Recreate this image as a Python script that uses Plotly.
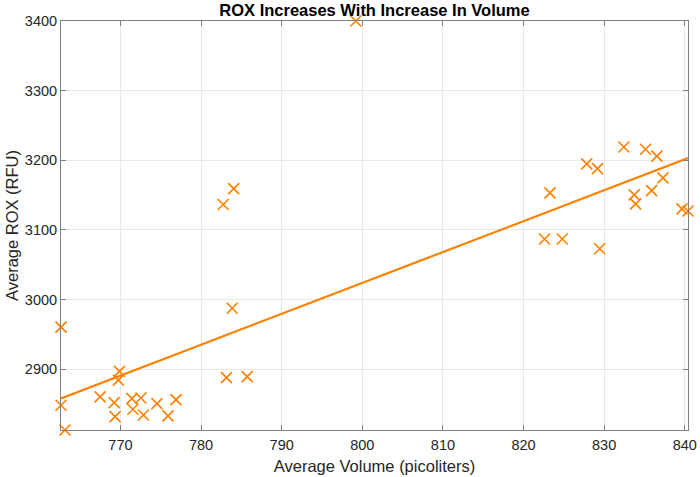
import numpy as np
import plotly.graph_objects as go

volume = [762.63, 762.63, 763.12, 767.48, 769.22, 769.34, 769.88, 769.75, 771.42, 771.54,
          772.54, 772.86, 774.53, 775.90, 776.89, 782.74, 784.05, 783.15, 783.86, 785.72,
          799.19, 822.60, 824.80, 823.28, 827.84, 829.17, 829.45, 832.44, 833.73, 833.90,
          835.14, 835.88, 836.54, 837.29, 839.65, 840.40]
rox = [2960.2, 2848.0, 2812.5, 2860.0, 2851.8, 2831.8, 2896.7, 2884.2, 2857.6, 2842.3,
       2858.5, 2834.1, 2850.4, 2832.7, 2856.2, 3136.4, 3159.3, 2887.7, 2987.4, 2889.1,
       3400.0, 3086.8, 3086.8, 3153.2, 3194.7, 3188.0, 3072.9, 3219.0, 3150.3, 3137.4,
       3215.7, 3156.4, 3206.0, 3174.6, 3130.2, 3127.0]
x_ticks = [770, 780, 790, 800, 810, 820, 830, 840]
y_ticks = [2900, 3000, 3100, 3200, 3300, 3400]

color = "#FF8000"
FONT = "Liberation Sans, Arial, Helvetica, sans-serif"
vx = np.array(volume)
vy = np.array(rox)
slope, intercept = np.polyfit(vx, vy, 1)
fit_x = np.array([vx.min(), vx.max()])
fit_y = slope * fit_x + intercept

fig = go.Figure()
fig.add_trace(go.Scatter(x=volume, y=rox, mode="markers",
                         marker=dict(symbol="x-thin-open", size=11, color=color,
                                     line=dict(color=color, width=1.6)),
                         cliponaxis=False, showlegend=False))
fig.add_trace(go.Scatter(x=fit_x, y=fit_y, mode="lines",
                         line=dict(color=color, width=2.2),
                         showlegend=False))

axis_common = dict(showline=True, linecolor="#808080", linewidth=1, mirror="ticks",
                   ticks="inside", ticklen=5, tickcolor="#808080", automargin=False,
                   showgrid=True, gridcolor="#E8E8E8", gridwidth=1, zeroline=False,
                   tickfont=dict(family=FONT, size=14.5, color="#262626"),
                   title_font=dict(family=FONT, size=16.5, color="#262626"))

W, H = 700, 477
fig.update_layout(
    width=W, height=H,
    margin=dict(l=61, r=12, t=21, b=47),
    paper_bgcolor="white", plot_bgcolor="white",
    title=dict(text="<b>ROX Increases With Increase In Volume</b>",
               x=374.5 / W, xanchor="center", y=1 - 10.5 / H, yanchor="middle",
               font=dict(family=FONT, size=16.5, color="black"), automargin=False),
    xaxis=dict(range=[vx.min(), vx.max()], tickvals=x_ticks, ticklabelstandoff=2,
               title=dict(text="Average Volume (picoliters)", standoff=8), **axis_common),
    yaxis=dict(range=[vy.min(), vy.max()], tickvals=y_ticks,
               title=dict(text="Average ROX (RFU)", standoff=2), **axis_common),
)

fig.write_html("out.html", config={"displayModeBar": False},
               post_script="document.body.style.margin='0';")
